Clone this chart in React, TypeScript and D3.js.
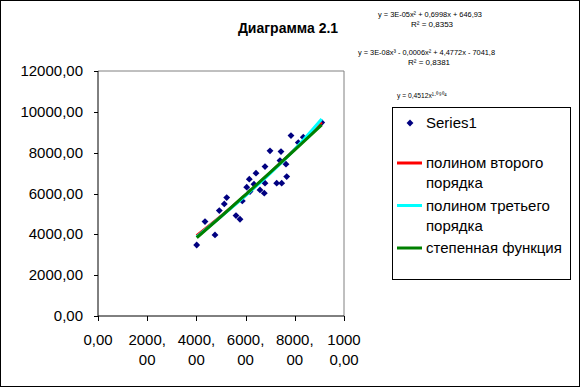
import React, { useEffect } from 'react';
import * as d3 from 'd3';

// scatter data
const xs = [4012, 4756, 4350, 4931, 5134, 5232, 5610, 5772, 5866, 6045, 6150, 6423, 6179, 6341, 6585,
  6789, 6789, 6760, 6992, 7264, 7467, 7439, 7398, 7642, 7671, 7845, 8142, 8345, 9094];
const ys = [3480, 3971, 4623, 5162, 5490, 5799, 4917, 4740, 5637, 6309, 6701, 6995, 6093, 6456, 6176,
  7318, 6505, 6015, 8088, 6505, 6505, 8054, 7613, 7436, 6829, 8838, 8495, 8760, 9476];

// trend lines, estimated along the drawn curves
const trendX = [4012, 5000, 6000, 7000, 8000, 9094];
const poly2Y = [3938, 4896, 5926, 7016, 8165, 9492];
const poly3Y = [3870, 4870, 5900, 6990, 8170, 9650];
const powerY = [3834, 4873, 5947, 7030, 8135, 9363];

const yTicks = [0, 2000, 4000, 6000, 8000, 10000, 12000];
const xTicks = [0, 2000, 4000, 6000, 8000, 10000];
const xTickLabels = [['0,00'], ['2000,', '00'], ['4000,', '00'], ['6000,', '00'], ['8000,', '00'], ['1000', '0,00']];

const trends = [
  { name: ['полином второго', 'порядка'], ys: poly2Y, color: '#ff0000' },
  { name: ['полином третьего', 'порядка'], ys: poly3Y, color: '#00ffff' },
  { name: ['степенная функция'], ys: powerY, color: '#008000' },
];

const equations = [
  { lines: ['y = 3E-05x² + 0,6998x + 646,93', 'R² = 0,8353'], x: 378, y: 17, len: 104, rx: 411 },
  { lines: ['y = 3E-08x³ - 0,0006x² + 4,4772x - 7041,8', 'R² = 0,8381'], x: 358, y: 55, len: 137, rx: 408 },
  { lines: ['y = 0,4512x¹·⁰⁹⁰⁴'], x: 397, y: 98, len: 50, rx: 0 },
];

const W = 580;
const H = 387;
const font = 'Arial, "Liberation Sans", sans-serif';

export default function App() {
  useEffect(() => {
    document.body.style.margin = '0';
  }, []);

  const x = d3.scaleLinear().domain([0, 10000]).range([98, 344]);
  const y = d3.scaleLinear().domain([0, 12000]).range([316, 71]);

  const line = (vals: number[]) =>
    d3.line<number>()
      .x((_, i) => x(trendX[i]))
      .y(d => y(d))
      .curve(d3.curveMonotoneX)(vals) ?? '';

  const diamond = d3.symbol().type(d3.symbolDiamond2).size(30)() ?? '';

  return (
    <svg width={W} height={H} style={{ display: 'block', position: 'absolute', left: 0, top: 0 }}
      fontFamily={font}>
      <rect x={0.5} y={0.5} width={W - 1} height={H - 1} fill="#fff" stroke="#000" />

      <text x={288} y={33} textAnchor="middle" fontSize={14} fontWeight="bold">Диаграмма 2.1</text>

      {/* plot area border */}
      <path d={`M${x(0)},${y(12000)}H${x(10000)}V${y(0)}`} fill="none" stroke="#808080" />

      {/* y axis */}
      <line x1={x(0)} x2={x(0)} y1={y(0)} y2={y(12000)} stroke="#000" />
      {yTicks.map(t => (
        <g key={t}>
          <line x1={x(0) - 4} x2={x(0)} y1={Math.round(y(t)) + 0.5} y2={Math.round(y(t)) + 0.5} stroke="#000" />
          <text x={83} y={y(t) + 5} textAnchor="end" fontSize={15} fill="#000">
            {t.toFixed(2).replace('.', ',')}
          </text>
        </g>
      ))}

      {/* x axis */}
      <line x1={x(0)} x2={x(10000)} y1={y(0)} y2={y(0)} stroke="#000" />
      {xTicks.map((t, i) => (
        <g key={t}>
          <line x1={Math.round(x(t)) + 0.5} x2={Math.round(x(t)) + 0.5} y1={y(0)} y2={y(0) + 5} stroke="#000" />
          {xTickLabels[i].map((s, j) => (
            <text key={j} x={x(t)} y={345 + j * 20} textAnchor="middle" fontSize={15}>{s}</text>
          ))}
        </g>
      ))}

      {/* points */}
      {xs.map((v, i) => (
        <path key={i} d={diamond} transform={`translate(${x(v)},${y(ys[i])})`} fill="#000080" />
      ))}

      {/* trend lines */}
      {trends.map(tr => (
        <path key={tr.color} d={line(tr.ys)} fill="none" stroke={tr.color} strokeWidth={3} />
      ))}

      {/* equations */}
      {equations.map((eq, k) => (
        <g key={k} fontSize={8}>
          <text x={eq.x} y={eq.y} textLength={eq.len} lengthAdjust="spacingAndGlyphs">{eq.lines[0]}</text>
          {eq.lines[1] && <text x={eq.rx} y={eq.y + 10}>{eq.lines[1]}</text>}
        </g>
      ))}

      {/* legend */}
      <rect x={392.5} y={107.5} width={178} height={172} fill="#fff" stroke="#000" />
      <path d={diamond} transform="translate(410,123)" fill="#000080" />
      <text x={426} y={128} fontSize={15}>Series1</text>
      {trends.map((tr, i) => {
        const ly = 163 + i * 42.5;
        return (
          <g key={tr.color}>
            <line x1={397} x2={422} y1={ly} y2={ly} stroke={tr.color} strokeWidth={3} />
            {tr.name.map((s, j) => (
              <text key={j} x={426} y={ly + 5 + j * 20} fontSize={15}>{s}</text>
            ))}
          </g>
        );
      })}
    </svg>
  );
}
